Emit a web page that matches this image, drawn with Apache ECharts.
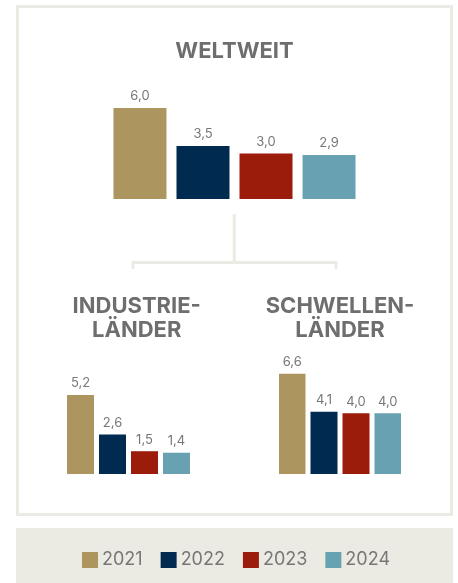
<!DOCTYPE html>
<html>
<head>
<meta charset="utf-8">
<script src="https://cdn.jsdelivr.net/npm/echarts@6/dist/echarts.min.js"></script>
<style>
html,body{margin:0;padding:0;background:#fff;}
#c{width:458px;height:583px;}
</style>
</head>
<body>
<div id="c"></div>
<script>
const years = ['2021', '2022', '2023', '2024'];
const colors = ['#ad9560', '#002a4f', '#9c1c0b', '#68a1b1'];
const panels = ['WELTWEIT', 'INDUSTRIE-\nLÄNDER', 'SCHWELLEN-\nLÄNDER'];
const weltweit = [6.0, 3.5, 3.0, 2.9];
const industrielaender = [5.2, 2.6, 1.5, 1.4];
const schwellenlaender = [6.6, 4.1, 4.0, 4.0];
const panelValues = [weltweit, industrielaender, schwellenlaender];

const FONT = 'Inter';
const frameColor = '#ecebe3';

const grids = [
  { left: 113, width: 243, top: 92.8, height: 106.2 },
  { left: 67, width: 123, top: 367.6, height: 106.4 },
  { left: 279, width: 122, top: 367.6, height: 106.4 }
];
const barWidths = [53, 27, 27];
const barGaps = ['18.9%', '18.5%', '18.5%'];

const series = [];
panelValues.forEach((vals, p) => {
  years.forEach((y, i) => {
    series.push({
      name: y,
      type: 'bar',
      xAxisIndex: p,
      yAxisIndex: p,
      barWidth: barWidths[p],
      barGap: barGaps[p],
      data: [vals[i]],
      itemStyle: { color: colors[i] },
      label: {
        show: true,
        position: 'top',
        distance: 5,
        color: '#777777',
        fontFamily: FONT,
        fontSize: 13,
        formatter: (d) => d.value.toFixed(1).replace('.', ',')
      },
      emphasis: { disabled: true }
    });
  });
});

const option = {
  animation: false,
  backgroundColor: '#ffffff',
  title: [
    { text: panels[0], left: 234.5, top: 40, textAlign: 'center', padding: 0,
      textStyle: { fontFamily: FONT, fontSize: 22, fontWeight: 'bold', color: '#6e6e6e', lineHeight: 23.3 } },
    { text: panels[1], left: 136.7, top: 295, textAlign: 'center', padding: 0,
      textStyle: { fontFamily: FONT, fontSize: 22, fontWeight: 'bold', color: '#6e6e6e', lineHeight: 23.3, align: 'center' } },
    { text: panels[2], left: 340, top: 295, textAlign: 'center', padding: 0,
      textStyle: { fontFamily: FONT, fontSize: 22, fontWeight: 'bold', color: '#6e6e6e', lineHeight: 23.3, align: 'center' } }
  ],
  legend: {
    data: years,
    left: 82,
    top: 551,
    padding: 0,
    itemWidth: 16,
    itemHeight: 16,
    itemGap: 18,
    icon: 'rect',
    selectedMode: false,
    textStyle: { fontFamily: FONT, fontSize: 18, color: '#777777', padding: [0, 0, 0, -1] }
  },
  grid: grids.map(g => Object.assign({ containLabel: false }, g)),
  xAxis: grids.map((g, i) => ({
    type: 'category', gridIndex: i, data: [panels[i]], show: false
  })),
  yAxis: grids.map((g, i) => ({
    type: 'value', gridIndex: i, min: 0, max: 7, show: false
  })),
  graphic: [
    { type: 'rect', shape: { x: 16, y: 528, width: 437, height: 60 }, style: { fill: frameColor }, silent: true, z: -1 },
    { type: 'rect', shape: { x: 17.5, y: 6.5, width: 434, height: 508 }, style: { fill: null, stroke: frameColor, lineWidth: 3 }, silent: true, z: -1 },
    { type: 'polyline', shape: { points: [[234.3, 214], [234.3, 262.5]] }, style: { stroke: frameColor, lineWidth: 3, fill: null }, silent: true, z: -1 },
    { type: 'polyline', shape: { points: [[133, 269], [133, 262.5], [336, 262.5], [336, 269]] }, style: { stroke: frameColor, lineWidth: 3, fill: null }, silent: true, z: -1 }
  ],
  series: series
};

const chart = echarts.init(document.getElementById('c'), null, { renderer: 'canvas' });
chart.setOption(option);
</script>
</body>
</html>
